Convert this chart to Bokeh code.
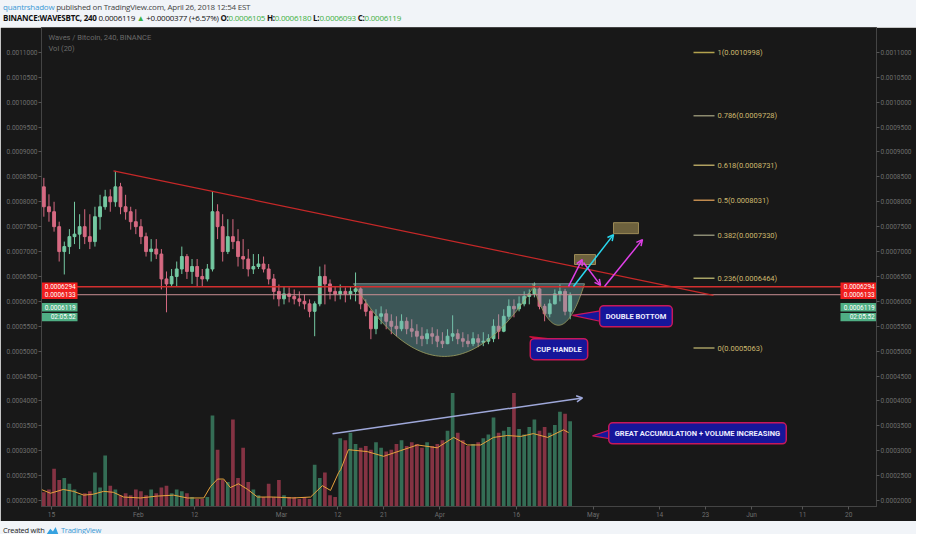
from bokeh.plotting import figure
from bokeh.models import (Range1d, LinearAxis, FixedTicker, PrintfTickFormatter,
                          Label, Arrow, OpenHead, Div)
from bokeh.layouts import column
from bokeh.embed import file_html
from bokeh.resources import INLINE
from bokeh.core.properties import value

# ---------------- data (prices in units of 1e-7 BTC, one candle per day, day-of-year) ----------------
days = list(range(13, 117))
first_open7 = 8300
high7 = [8480, 8150, 8000, 7600, 7200, 7450, 8000, 7750, 7850, 7750,
         7900, 8140, 8240, 8250, 8620, 8380, 8140, 7900, 7850, 7650,
         7380, 7250, 7250, 7050, 6600, 6650, 6800, 7100, 6950, 6850,
         6850, 6650, 6750, 8200, 7950, 7750, 7650, 7650, 7450, 7250,
         7050, 6950, 6950, 6900, 6750, 6550, 6340, 6300, 6280, 6240,
         6200, 6140, 6040, 6000, 6700, 6740, 6440, 6300, 6340, 6280,
         6300, 6580, 6300, 6040, 5840, 5840, 5900, 5840, 5740, 5700,
         5740, 5680, 5640, 5540, 5480, 5440, 5480, 5440, 5380, 5440,
         5720, 5440, 5380, 5340, 5380, 5340, 5380, 5340, 5640, 5740,
         5840, 6040, 6040, 6100, 6200, 6240, 6380, 6280, 5950, 6040,
         6240, 6340, 6250, 6180]
low7 = [7700, 7600, 7400, 6800, 6540, 6950, 7150, 7050, 7150, 7050,
        7100, 7440, 7840, 7800, 7900, 7750, 7640, 7440, 7350, 7150,
        6900, 6800, 6850, 6240, 5780, 6300, 6300, 6550, 6450, 6350,
        6300, 6300, 6400, 6600, 7250, 6800, 6950, 7050, 6700, 6650,
        6500, 6550, 6650, 6580, 6340, 6040, 5900, 5940, 5980, 5940,
        5900, 5840, 5680, 5300, 5900, 5940, 6040, 6000, 6040, 5980,
        6040, 6000, 5840, 5700, 5240, 5340, 5540, 5440, 5340, 5300,
        5400, 5340, 5280, 5140, 5100, 5140, 5140, 5080, 5063, 5140,
        5200, 5140, 5080, 5080, 5100, 5080, 5100, 5140, 5180, 5240,
        5380, 5640, 5680, 5800, 5900, 5940, 6080, 5840, 5600, 5680,
        5940, 6000, 5720, 5640]
close7 = [7900, 7800, 7500, 7000, 7100, 7300, 7350, 7500, 7300, 7200,
          7700, 7900, 8100, 8000, 8300, 7900, 7800, 7600, 7500, 7300,
          7000, 7050, 6950, 6450, 6350, 6500, 6650, 6900, 6600, 6700,
          6500, 6450, 6650, 7800, 7500, 7000, 7300, 7200, 6900, 6850,
          6650, 6700, 6750, 6650, 6450, 6200, 6050, 6150, 6100, 6050,
          6000, 5950, 5800, 5950, 6500, 6350, 6200, 6150, 6200, 6150,
          6200, 6250, 5950, 5800, 5450, 5700, 5750, 5600, 5500, 5450,
          5600, 5450, 5400, 5300, 5250, 5350, 5300, 5200, 5150, 5300,
          5350, 5250, 5200, 5150, 5250, 5180, 5200, 5250, 5500, 5400,
          5700, 5900, 5850, 5950, 6100, 6150, 6250, 5900, 5750, 5950,
          6150, 6200, 5800, 6119]
volume = [15, 18, 40, 28, 30, 24, 18, 12, 14, 16,
          36, 20, 54, 22, 18, 12, 14, 12, 18, 16,
          12, 18, 14, 20, 22, 14, 18, 16, 14, 10,
          8, 8, 10, 96, 60, 28, 26, 92, 30, 62,
          26, 18, 12, 10, 24, 10, 28, 12, 10, 10,
          8, 10, 8, 44, 30, 36, 12, 10, 72, 70,
          78, 66, 62, 64, 60, 68, 62, 58, 60, 66,
          70, 64, 68, 66, 62, 68, 64, 66, 70, 80,
          120, 78, 70, 64, 66, 68, 72, 76, 94, 78,
          80, 84, 120, 82, 76, 84, 92, 80, 84, 78,
          86, 100, 98, 90]
ma_days = [13.0, 14.8, 17.3, 19.3, 21.3, 23.2, 25.2, 27.1, 29.1, 32.4, 35.7, 38.9, 41.6,
           44.8, 46.1, 47.5, 48.7, 50.0, 51.6, 53.4, 55.3, 58.4, 62.3, 65.7, 68.0, 69.6,
           71.2, 71.6, 73.1, 76.8, 80.0, 83.3, 86.6, 90.5, 93.7, 96.4, 99.0, 101.5, 104.2,
           106.8, 109.3, 112.1, 115.2, 116.2]
ma_vol = [18, 14, 18, 16, 12, 13, 16, 15, 10, 9, 11, 12, 9,
          9, 21, 29, 29, 20, 24, 18, 10, 10, 9, 10, 22, 17,
          36, 39, 60, 58, 53, 59, 65, 62, 73, 65, 65, 73, 75,
          74, 77, 73, 81, 78]

xtick_days = [15, 32, 43, 60, 71, 80, 91, 106, 121, 134, 143, 152, 162, 171]
xtick_labels = ["15", "Feb", "12", "Mar", "12", "21", "Apr", "16", "May", "14", "23", "Jun", "11", "20"]
price_ticks = [0.0002, 0.00025, 0.0003, 0.00035, 0.0004, 0.00045, 0.0005, 0.00055, 0.0006,
               0.00065, 0.0007, 0.00075, 0.0008, 0.00085, 0.0009, 0.00095, 0.001, 0.00105, 0.0011]

fib_levels = [0.0010998, 0.0009728, 0.0008731, 0.0008031, 0.0007330, 0.0006464, 0.0005063]
fib_labels = ["1(0.0010998)", "0.786(0.0009728)", "0.618(0.0008731)", "0.5(0.0008031)",
              "0.382(0.0007330)", "0.236(0.0006464)", "0(0.0005063)"]
level_upper = 0.0006294
level_lower = 0.0006133
last_price = 0.0006119

# ---------------- derived OHLC ----------------
S = 1e-7
closes = [c * S for c in close7]
opens = [first_open7 * S] + closes[:-1]
highs = [max(h * S, o, c) for h, o, c in zip(high7, opens, closes)]
lows = [min(l * S, o, c) for l, o, c in zip(low7, opens, closes)]
xc = [d + 0.5 for d in days]
up = [c >= o for o, c in zip(opens, closes)]

BG = "#181818"
UP, DOWN = "#74c9a2", "#d66a82"
VUP, VDOWN = "#3d8a6a", "#a83c52"
FONT = "Roboto"
W = 916
H_MAIN = 494
Y_TOP, Y_BOT = 0.00115, 0.000188
X0, X1 = 13.04, 176.45

p = figure(width=W, height=H_MAIN, output_backend="svg", toolbar_location=None,
           x_range=Range1d(X0, X1), y_range=Range1d(Y_BOT, Y_TOP),
           min_border_left=41, min_border_right=40, min_border_top=0, min_border_bottom=13)
p.extra_y_ranges = {"vol": Range1d(0, 506)}
p.background_fill_color = BG
p.border_fill_color = BG
p.outline_line_color = "#444444"
p.grid.visible = False

right_axis = LinearAxis()
p.add_layout(right_axis, "right")
for ax in p.yaxis:
    ax.ticker = FixedTicker(ticks=price_ticks)
    ax.formatter = PrintfTickFormatter(format="%.7f")
    ax.major_label_text_font = FONT
    ax.major_label_text_font_size = "6.5px"
    ax.major_label_text_color = "#6e6e6e"
    ax.major_label_standoff = 1
    ax.major_tick_out = 3
    ax.major_tick_in = 0
    ax.minor_tick_line_color = None
    ax.major_tick_line_color = "#555555"
    ax.axis_line_color = "#444444"
xa = p.xaxis[0]
xa.ticker = FixedTicker(ticks=xtick_days)
xa.major_label_overrides = {d: t for d, t in zip(xtick_days, xtick_labels)}
xa.major_label_text_font = FONT
xa.major_label_text_font_size = "6.5px"
xa.major_label_text_color = "#6e6e6e"
xa.major_label_standoff = 1
xa.major_tick_out = 3
xa.major_tick_in = 0
xa.minor_tick_line_color = None
xa.major_tick_line_color = "#555555"
xa.axis_line_color = "#444444"

# volume + MA
p.vbar(x=xc, top=volume, bottom=0, width=0.72, y_range_name="vol",
       fill_color=[VUP if u else VDOWN for u in up], line_color=None, fill_alpha=0.75)
p.line(ma_days, ma_vol, y_range_name="vol", line_color="#e8a33d", line_width=1)

# candles
ccol = [UP if u else DOWN for u in up]
p.segment(x0=xc, y0=lows, x1=xc, y1=highs, line_color=ccol, line_width=1)
p.vbar(x=xc, top=[max(o, c) for o, c in zip(opens, closes)],
       bottom=[min(o, c) for o, c in zip(opens, closes)], width=0.55,
       fill_color=ccol, line_color=ccol)

# cup & handle drawing (parabolic arcs under a common chord)
cup_top = 0.0006354
for cx, hw, depth in [(91.91, 17.81, 0.000146), (114.22, 5.09, 0.0000834)]:
    us = [-1 + i / 30 for i in range(61)]
    xs = [cx + hw * u for u in us]
    ys = [cup_top - depth * (1 - u * u) for u in us]
    p.patch(xs, ys, fill_color="#72b4b6", fill_alpha=0.4, line_color=None)
    p.line(xs, ys, line_color="#a0a060", line_width=1, line_alpha=0.8)
p.line([74.1, 119.31], [cup_top, cup_top], line_color="#8fb0b0", line_width=1, line_alpha=0.7)

# horizontal levels and trendline
p.segment(x0=[X0, X0], x1=[X1, X1], y0=[level_upper, level_lower], y1=[level_upper, level_lower],
          line_color=["#d32f2f", "#c98f94"], line_width=[1.5, 1])
p.line([27.13, 144.55], [0.000862, 0.000612], line_color="#c62828", line_width=1.2)

# fib retracement
fib_cols = ["#b3a24e", "#8c8a6e", "#b0a060", "#c08a4e", "#8a8a72", "#a8a466", "#a49c62"]
p.segment(x0=[140.64] * 7, x1=[144.75] * 7, y0=fib_levels, y1=fib_levels,
          line_color=fib_cols, line_width=1.5)
p.text(x=[145.33] * 7, y=fib_levels, text=fib_labels, text_font=value(FONT),
       text_font_size="7.5px", text_color="#cdb96f", text_baseline="middle", text_align="left")

# target boxes
p.quad(left=[117.35, 124.98], right=[121.46, 129.87], bottom=[0.000674, 0.000736],
       top=[0.000694, 0.000758], fill_color="#8a7a4a", fill_alpha=0.75, line_color="#9c8a56")

# arrows
for (x0, y0, x1, y1, c) in [
        (116.18, 0.00063, 118.85, 0.000684, "#e040e8"),
        (119.11, 0.000678, 122.44, 0.000632, "#e040e8"),
        (123.22, 0.00063, 130.65, 0.000724, "#e040e8"),
        (117.15, 0.00063, 124.98, 0.000734, "#29d9f0"),
        (69.99, 0.000334, 118.91, 0.000406, "#9fa8da")]:
    p.add_layout(Arrow(end=OpenHead(size=6, line_color=c, line_width=1.5),
                       x_start=x0, y_start=y0, x_end=x1, y_end=y1,
                       line_color=c, line_width=1.5))

# callouts
NAVY, CRIMSON = "#16169a", "#c8185a"
p.patches([[116.96, 124.2, 124.2], [120.87, 125.5, 125.5], [108.54, 113.04, 111.67]],
          [[0.000572, 0.000584, 0.000556], [0.00033, 0.000346, 0.000322],
           [0.000529, 0.000524, 0.00052]],
          fill_color=[NAVY, NAVY, "#d0103a"], line_color=[CRIMSON, CRIMSON, "#d0103a"],
          line_width=1.2)
for (x, y, t) in [(129.38, 0.00057, "DOUBLE BOTTOM"), (114.31, 0.000504, "CUP HANDLE"),
                  (141.42, 0.000335, "GREAT ACCUMULATION + VOLUME INCREASING")]:
    p.add_layout(Label(x=x, y=y, text=t, text_align="center", text_baseline="middle",
                       text_font=FONT, text_font_size="7.5px", text_font_style="bold",
                       text_color="#ececff", background_fill_color=NAVY,
                       border_line_color=CRIMSON, border_line_width=1.5,
                       padding=6, border_radius=4))

# legend texts
p.text(x=[14.41, 14.41], y=[0.00113, 0.001108], text=["Waves / Bitcoin, 240, BINANCE", "Vol (20)"],
       text_font=value(FONT), text_font_size="7.5px", text_color="#6a6a6a",
       text_baseline="middle", text_align="left")

# price tags at both edges of the price pane
TAG_W = 7.05          # tag width in days (about 36 px)
TAG_H = 0.0000085     # tag half-height in price units
tags = [(level_upper, "%.7f" % level_upper, "#f01e1e"),
        (level_lower, "%.7f" % level_lower, "#f01e1e"),
        (level_lower - 0.000025, "%.7f" % last_price, "#4fae84"),
        (level_lower - 0.000045, "02:05:52", "#4fae84")]
ty = [t[0] for t in tags]
tt = [t[1] for t in tags]
tc = [t[2] for t in tags]
for left_edge, text_x, align in [(X1 - TAG_W, X1 - 0.35, "right"), (X0, X0 + TAG_W - 0.35, "right")]:
    p.quad(left=[left_edge] * 4, right=[left_edge + TAG_W] * 4,
           bottom=[y - TAG_H for y in ty], top=[y + TAG_H for y in ty],
           fill_color=tc, line_color=None)
    p.text(x=[text_x] * 4, y=ty, text=tt, text_font=value(FONT), text_font_size="6.5px",
           text_color="white", text_baseline="middle", text_align=align)

G = "#3cb043"
header_html = (
    "<div style=\"font-family:'Open Sans',sans-serif;font-size:8px;line-height:11px;"
    "letter-spacing:-0.25px;white-space:nowrap;color:#444;padding:1px 0 0 3px\">"
    "<span style='color:#3d9ad6'>quantrshadow</span> published on TradingView.com, April 26, 2018 12:54 EST<br>"
    "<span style='color:#111'><b>BINANCE:WAVESBTC, 240</b> 0.0006119 "
    f"<span style='color:{G}'>&#9650;</span> +0.0000377 (+6.57%) "
    f"<b>O:</b><span style='color:{G}'>0.0006105</span> "
    f"<b>H:</b><span style='color:{G}'>0.0006180</span> "
    f"<b>L:</b><span style='color:{G}'>0.0006093</span> "
    f"<b>C:</b><span style='color:{G}'>0.0006119</span></span></div>"
)
header = Div(text=header_html, width=W, height=27, margin=0,
             styles={"background-color": "#f1f4f8", "overflow": "hidden"})
footer_html = (
    "<div style=\"font-family:'Open Sans',sans-serif;font-size:7.5px;line-height:13px;height:13px;"
    "letter-spacing:-0.25px;white-space:nowrap;color:#222;display:flex;align-items:center;"
    "padding-left:3px\">"
    "<span>Created with&nbsp;</span>"
    "<svg width='13' height='8' viewBox='0 0 13 9'>"
    "<path d='M0 8 L4 2 L7 5 L10 0 L13 8 Z' fill='#36a2e0'/></svg>"
    "<span style='color:#3d9ad6'>&nbsp;TradingView</span></div>"
)
footer = Div(text=footer_html, width=W, height=13, margin=0,
             styles={"background-color": "#f1f4f8", "overflow": "hidden"})

layout = column(header, p, footer, spacing=0)
open("out.html", "w").write(file_html(layout, INLINE))
